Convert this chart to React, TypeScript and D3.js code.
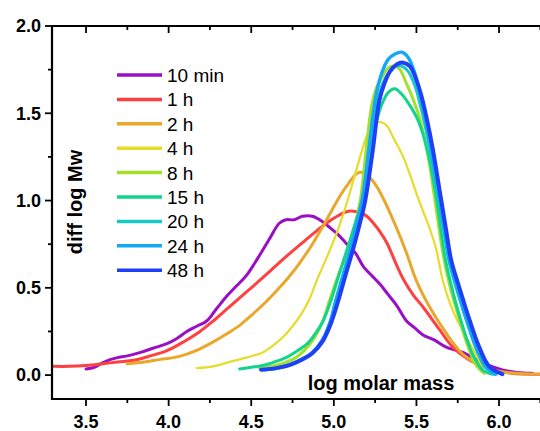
import * as d3 from 'd3';

// [log M] and [diff log Mw] per sample
const labels = ['10 min', '1 h', '2 h', '4 h', '8 h', '15 h', '20 h', '24 h', '48 h'];
const colors = ['#9a0fc6', '#fe4040', '#e9a82c', '#e6dc2a', '#a4e02a', '#12d48c', '#16c8c8', '#14a8f4', '#2040f8'];
const widths = [3, 3, 3, 2.2, 3, 3, 3, 3.4, 4];

const x10min = [3.50, 3.55, 3.60, 3.65, 3.69, 3.75, 3.83, 3.91, 3.99, 4.05, 4.11, 4.17, 4.23, 4.29, 4.35, 4.41, 4.47, 4.54, 4.61, 4.67, 4.71, 4.76, 4.81, 4.87, 4.93, 4.97, 5.02, 5.07, 5.13, 5.18, 5.23, 5.28, 5.33, 5.38, 5.44, 5.49, 5.54, 5.61, 5.68, 5.78, 5.90, 6.02, 6.11, 6.20];
const y10min = [0.035, 0.045, 0.07, 0.09, 0.10, 0.11, 0.13, 0.155, 0.18, 0.21, 0.25, 0.28, 0.31, 0.38, 0.45, 0.51, 0.57, 0.67, 0.78, 0.87, 0.89, 0.89, 0.91, 0.91, 0.88, 0.85, 0.81, 0.76, 0.70, 0.62, 0.57, 0.52, 0.46, 0.40, 0.31, 0.27, 0.23, 0.20, 0.16, 0.13, 0.07, 0.03, 0.015, 0.01];

const x1h = [3.30, 3.40, 3.50, 3.60, 3.69, 3.79, 3.89, 3.99, 4.09, 4.19, 4.27, 4.39, 4.47, 4.59, 4.67, 4.78, 4.85, 4.92, 4.97, 5.02, 5.06, 5.10, 5.16, 5.20, 5.24, 5.28, 5.32, 5.38, 5.42, 5.48, 5.54, 5.64, 5.72, 5.82, 5.93, 6.08, 6.25];
const y1h = [0.05, 0.05, 0.055, 0.065, 0.075, 0.085, 0.11, 0.14, 0.19, 0.25, 0.31, 0.41, 0.475, 0.575, 0.645, 0.735, 0.79, 0.845, 0.88, 0.91, 0.93, 0.94, 0.93, 0.91, 0.87, 0.82, 0.76, 0.63, 0.55, 0.46, 0.39, 0.26, 0.16, 0.086, 0.04, 0.01, 0.005];

const x2h = [3.75, 3.85, 3.95, 4.03, 4.11, 4.19, 4.27, 4.35, 4.43, 4.51, 4.59, 4.67, 4.73, 4.795, 4.87, 4.92, 4.98, 5.04, 5.09, 5.14, 5.18, 5.22, 5.26, 5.30, 5.34, 5.39, 5.44, 5.50, 5.58, 5.68, 5.78, 5.88, 5.98, 6.08, 6.25];
const y2h = [0.065, 0.075, 0.09, 0.10, 0.12, 0.15, 0.19, 0.235, 0.285, 0.35, 0.42, 0.50, 0.565, 0.645, 0.75, 0.83, 0.93, 1.03, 1.10, 1.155, 1.16, 1.13, 1.08, 1.01, 0.93, 0.82, 0.70, 0.54, 0.39, 0.24, 0.12, 0.06, 0.025, 0.012, 0.005];

const x4h = [4.17, 4.27, 4.37, 4.47, 4.57, 4.64, 4.70, 4.75, 4.80, 4.85, 4.90, 4.96, 5.02, 5.08, 5.15, 5.20, 5.24, 5.28, 5.32, 5.36, 5.42, 5.46, 5.50, 5.54, 5.58, 5.62, 5.66, 5.72, 5.80, 5.87, 5.90];
const y4h = [0.04, 0.05, 0.076, 0.10, 0.13, 0.175, 0.225, 0.28, 0.345, 0.43, 0.55, 0.68, 0.82, 0.99, 1.22, 1.37, 1.43, 1.45, 1.43, 1.36, 1.25, 1.15, 1.04, 0.94, 0.84, 0.72, 0.54, 0.37, 0.22, 0.10, 0.03];

const x8h = [4.55, 4.62, 4.70, 4.77, 4.83, 4.88, 4.93, 4.975, 5.03, 5.085, 5.13, 5.16, 5.20, 5.23, 5.26, 5.30, 5.33, 5.37, 5.40, 5.44, 5.48, 5.52, 5.575, 5.62, 5.66, 5.70, 5.75, 5.81, 5.86, 5.91];
const y8h = [0.04, 0.05, 0.07, 0.10, 0.15, 0.21, 0.30, 0.43, 0.58, 0.716, 0.87, 1.00, 1.33, 1.55, 1.65, 1.72, 1.76, 1.77, 1.75, 1.67, 1.58, 1.47, 1.23, 0.95, 0.70, 0.52, 0.35, 0.17, 0.06, 0.01];

const x15h = [4.43, 4.50, 4.57, 4.64, 4.71, 4.78, 4.84, 4.89, 4.935, 4.98, 5.03, 5.08, 5.13, 5.17, 5.21, 5.25, 5.29, 5.33, 5.37, 5.41, 5.45, 5.50, 5.54, 5.58, 5.62, 5.676, 5.72, 5.78, 5.84, 5.90, 5.96];
const y15h = [0.035, 0.045, 0.055, 0.075, 0.10, 0.14, 0.18, 0.24, 0.31, 0.42, 0.57, 0.72, 0.87, 1.00, 1.22, 1.42, 1.55, 1.62, 1.64, 1.61, 1.56, 1.48, 1.38, 1.23, 1.02, 0.66, 0.48, 0.28, 0.12, 0.03, 0.005];

const x20h = [4.57, 4.65, 4.73, 4.80, 4.87, 4.93, 4.975, 5.01, 5.055, 5.10, 5.14, 5.18, 5.22, 5.26, 5.30, 5.34, 5.38, 5.41, 5.45, 5.49, 5.52, 5.55, 5.59, 5.63, 5.67, 5.70, 5.75, 5.81, 5.87, 5.92, 5.97];
const y20h = [0.03, 0.04, 0.06, 0.09, 0.13, 0.20, 0.30, 0.42, 0.57, 0.72, 0.87, 1.01, 1.30, 1.55, 1.68, 1.74, 1.77, 1.77, 1.74, 1.66, 1.56, 1.44, 1.25, 1.03, 0.80, 0.64, 0.47, 0.29, 0.13, 0.04, 0.005];

const x24h = [4.58, 4.66, 4.74, 4.81, 4.87, 4.93, 4.98, 5.01, 5.055, 5.10, 5.14, 5.175, 5.215, 5.255, 5.29, 5.33, 5.37, 5.41, 5.45, 5.49, 5.52, 5.55, 5.59, 5.63, 5.67, 5.70, 5.75, 5.81, 5.87, 5.93, 5.98];
const y24h = [0.03, 0.04, 0.06, 0.09, 0.13, 0.20, 0.31, 0.42, 0.57, 0.72, 0.87, 1.02, 1.32, 1.60, 1.73, 1.81, 1.84, 1.85, 1.82, 1.73, 1.62, 1.49, 1.29, 1.06, 0.83, 0.66, 0.49, 0.30, 0.14, 0.04, 0.005];

const x48h = [4.56, 4.65, 4.73, 4.80, 4.87, 4.93, 4.98, 5.025, 5.07, 5.115, 5.155, 5.19, 5.236, 5.276, 5.31, 5.34, 5.38, 5.42, 5.46, 5.50, 5.53, 5.56, 5.60, 5.64, 5.68, 5.71, 5.76, 5.82, 5.88, 5.94, 6.02];
const y48h = [0.03, 0.04, 0.057, 0.085, 0.125, 0.19, 0.29, 0.42, 0.57, 0.716, 0.86, 1.00, 1.29, 1.575, 1.68, 1.74, 1.78, 1.79, 1.77, 1.69, 1.60, 1.48, 1.29, 1.06, 0.83, 0.66, 0.50, 0.32, 0.16, 0.05, 0.005];

const xs = [x10min, x1h, x2h, x4h, x8h, x15h, x20h, x24h, x48h];
const ys = [y10min, y1h, y2h, y4h, y8h, y15h, y20h, y24h, y48h];

const xTicks = [3.5, 4.0, 4.5, 5.0, 5.5, 6.0];
const yTicks = [0.0, 0.5, 1.0, 1.5, 2.0];

const W = 540, H = 431;
const font = 'Liberation Sans, Arial, sans-serif';

export default function App() {
  const left = 52, top = 26, bottom = 399, right = 540;
  const x = d3.scaleLinear().domain([3.294, 6.248]).range([left, right]);
  const y = d3.scaleLinear().domain([-0.137, 2.0]).range([bottom, top]);
  const line = d3.line<[number, number]>()
    .x(d => x(d[0])).y(d => y(d[1]))
    .curve(d3.curveCatmullRom.alpha(0.5));

  const xMinor = d3.range(3.5, 6.3, 0.25);
  const yMinor = d3.range(0, 2.01, 0.25);

  return (
    <svg width={W} height={H} style={{ position: 'absolute', left: 0, top: 0 }}>
      <rect width={W} height={H} fill="#fff" />
      {xs.map((xa, i) => (
        <path key={i} d={line(xa.map((v, j) => [v, ys[i][j]]) as [number, number][]) || ''}
          fill="none" stroke={colors[i]} strokeWidth={widths[i]} strokeLinejoin="round" strokeLinecap="round" />
      ))}

      {/* axes */}
      <g stroke="#000" fill="none">
        <line x1={left} x2={left} y1={top - 1} y2={bottom + 1} strokeWidth={2.2} />
        <line x1={left - 1} x2={right} y1={bottom} y2={bottom} strokeWidth={2.2} />
        <line x1={left - 1} x2={right} y1={top} y2={top} strokeWidth={2.2} />
        {xMinor.map((t, i) => {
          const major = Math.abs(t * 2 - Math.round(t * 2)) < 1e-6;
          const len = major ? 7 : 4;
          return (
            <g key={i} strokeWidth={1.8}>
              <line x1={x(t)} x2={x(t)} y1={bottom} y2={bottom + len} />
              <line x1={x(t)} x2={x(t)} y1={top} y2={top + len} />
            </g>
          );
        })}
        {yMinor.map((t, i) => {
          const major = Math.abs(t * 2 - Math.round(t * 2)) < 1e-6;
          return <line key={i} x1={left} x2={left - (major ? 7 : 4)} y1={y(t)} y2={y(t)} strokeWidth={1.8} />;
        })}
      </g>

      <g fontFamily={font} fontWeight="bold" fontSize={18} fill="#000">
        {xTicks.map(t => (
          <text key={t} x={x(t)} y={428} textAnchor="middle">{t.toFixed(1)}</text>
        ))}
        {yTicks.map(t => (
          <text key={t} x={41} y={y(t)} dy="0.35em" textAnchor="end">{t.toFixed(1)}</text>
        ))}
        <text x={381} y={390} fontSize={20} textAnchor="middle">log molar mass</text>
        <text transform="translate(82,202) rotate(-90)" fontSize={20} textAnchor="middle">diff log Mw</text>
      </g>

      <g fontFamily={font} fontSize={19} fill="#000">
        {labels.map((l, i) => {
          const cy = 75 + i * 24.4;
          return (
            <g key={l}>
              <line x1={117} x2={162} y1={cy} y2={cy} stroke={colors[i]} strokeWidth={3.5} />
              <text x={167} y={cy + 7}>{l}</text>
            </g>
          );
        })}
      </g>
    </svg>
  );
}
